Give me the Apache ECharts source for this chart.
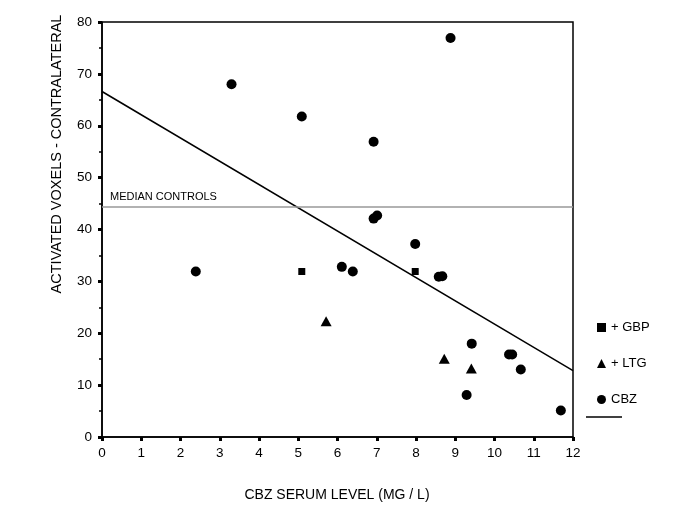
<!DOCTYPE html>
<html>
<head>
<meta charset="utf-8">
<script src="https://cdn.jsdelivr.net/npm/echarts@6/dist/echarts.min.js"></script>
<style>html,body{margin:0;padding:0;background:#fff}#c{width:685px;height:513px}</style>
</head>
<body>
<div id="c"></div>
<script>
const xTicks = [0,1,2,3,4,5,6,7,8,9,10,11,12];
const yTicks = [0,10,20,30,40,50,60,70,80];
const cbzX = [2.39, 3.30, 5.09, 6.92, 6.92, 7.01, 8.88, 6.11, 6.39, 7.98, 8.58, 8.67, 9.42, 10.37, 10.45, 10.67, 9.29, 11.69];
const cbzY = [31.9, 68.0, 61.8, 56.9, 42.1, 42.7, 76.9, 32.8, 31.9, 37.2, 30.9, 31.0, 18.0, 15.9, 15.9, 13.0, 8.1, 5.1];
const gbpX = [5.09, 7.98];
const gbpY = [31.9, 31.9];
const ltgX = [5.71, 8.72, 9.41];
const ltgY = [22.3, 15.1, 13.2];
const fitX = [0, 12];
const fitY = [66.6, 12.8];
const medianY = 44.4;
const medianLabel = 'MEDIAN CONTROLS';
const xName = 'CBZ SERUM LEVEL (MG / L)';
const yName = 'ACTIVATED VOXELS - CONTRALATERAL';
const seriesNames = ['+ GBP', '+ LTG', 'CBZ'];

const zip = (a, b) => a.map((v, i) => [v, b[i]]);
const font = 'Liberation Sans, Arial, sans-serif';

const chart = echarts.init(document.getElementById('c'), null, {renderer: 'canvas'});
chart.setOption({
  animation: false,
  backgroundColor: '#fff',
  textStyle: {fontFamily: font, color: '#000'},
  grid: {left: 102, right: 112, top: 22, bottom: 76, show: true, borderColor: '#000', borderWidth: 1.5, backgroundColor: 'transparent'},
  xAxis: {
    type: 'value', min: xTicks[0], max: xTicks[xTicks.length - 1], interval: 1,
    axisLine: {show: true, onZero: false, lineStyle: {color: '#000', width: 1.5}},
    axisTick: {show: true, length: 4, lineStyle: {color: '#000', width: 3}},
    axisLabel: {color: '#000', fontSize: 13.5, margin: 9, fontFamily: font},
    splitLine: {show: false}
  },
  yAxis: {
    type: 'value', min: yTicks[0], max: yTicks[yTicks.length - 1], interval: 10,
    axisLine: {show: true, onZero: false, lineStyle: {color: '#000', width: 1.5}},
    axisTick: {show: true, length: 4, lineStyle: {color: '#000', width: 3}},
    minorTick: {show: true, splitNumber: 2, length: 3, lineStyle: {color: '#000', width: 1.5}},
    axisLabel: {color: '#000', fontSize: 13.5, margin: 10, fontFamily: font},
    splitLine: {show: false}
  },
  legend: {
    orient: 'vertical', left: 592, top: 316, itemGap: 23, itemWidth: 9, itemHeight: 9,
    textStyle: {fontSize: 13, color: '#000', fontFamily: font},
    itemStyle: {opacity: 1},
    data: [
      {name: seriesNames[0], icon: 'rect'},
      {name: seriesNames[1], icon: 'triangle'},
      {name: seriesNames[2], icon: 'circle'}
    ]
  },
  graphic: [
    {type: 'line', shape: {x1: 586, y1: 417, x2: 622, y2: 417}, style: {stroke: '#000', lineWidth: 1.5}},
    {type: 'text', x: 57, y: 154, rotation: Math.PI / 2, style: {text: yName, font: '14.5px ' + font, fill: '#000', align: 'center', verticalAlign: 'middle'}},
    {type: 'text', x: 337, y: 495, style: {text: xName, font: '14px ' + font, fill: '#000', align: 'center', verticalAlign: 'middle'}}
  ],
  series: [
    {
      name: 'fit', type: 'line', data: zip(fitX, fitY), symbol: 'none',
      lineStyle: {color: '#000', width: 1.5}, z: 2,
      markLine: {
        silent: true, symbol: 'none',
        lineStyle: {color: '#999', width: 1.5, type: 'solid'},
        label: {show: true, formatter: medianLabel, position: 'insideStartTop', fontSize: 11, color: '#000', fontFamily: font, distance: [8, 4]},
        data: [{yAxis: medianY}]
      }
    },
    {name: seriesNames[0], type: 'scatter', data: zip(gbpX, gbpY), symbol: 'rect', symbolSize: 7, itemStyle: {color: '#000', opacity: 1}, z: 3},
    {name: seriesNames[1], type: 'scatter', data: zip(ltgX, ltgY), symbol: 'triangle', symbolSize: [11, 10], itemStyle: {color: '#000', opacity: 1}, z: 3},
    {name: seriesNames[2], type: 'scatter', data: zip(cbzX, cbzY), symbol: 'circle', symbolSize: 10, itemStyle: {color: '#000', opacity: 1}, z: 3}
  ]
});
</script>
</body>
</html>
